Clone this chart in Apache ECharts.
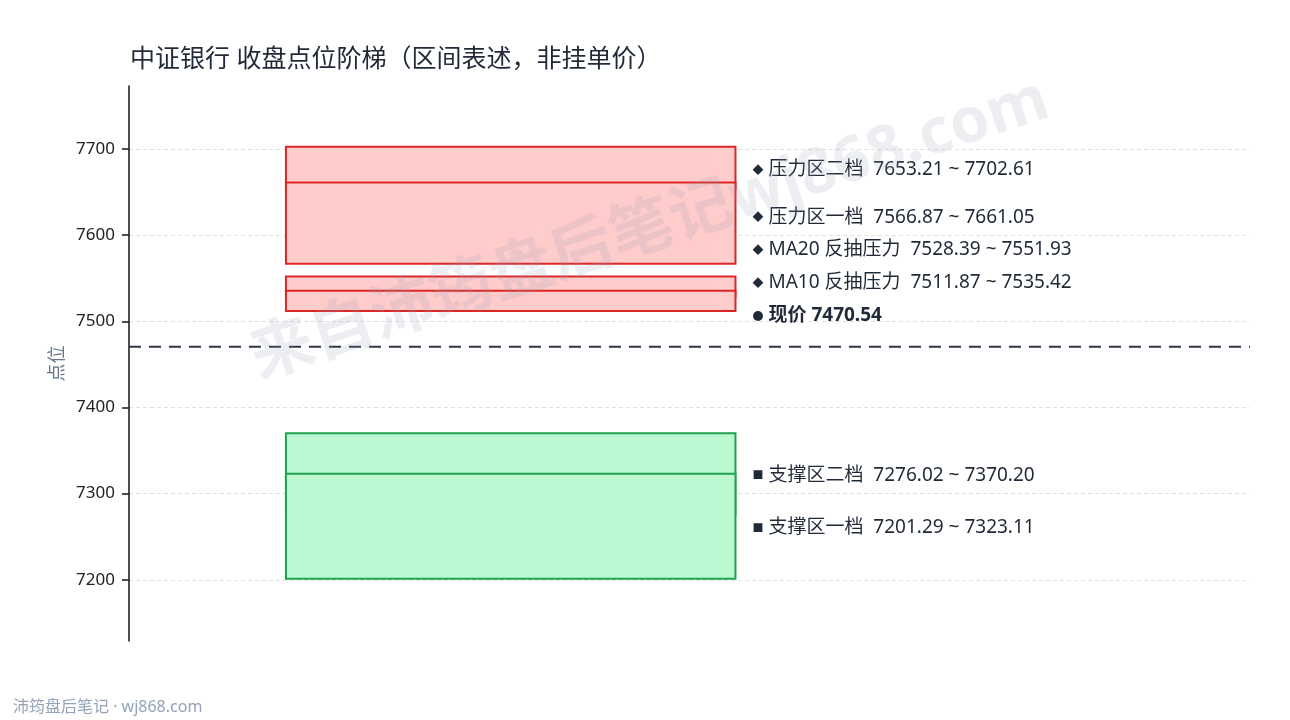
<!DOCTYPE html>
<html>
<head>
<meta charset="utf-8">
<script src="https://cdn.jsdelivr.net/npm/echarts@6/dist/echarts.min.js"></script>
<style>
html, body { margin: 0; padding: 0; background: #fff; }
#main { width: 1290px; height: 720px; }
</style>
</head>
<body>
<div id="main"></div>
<script>
// zones, drawn in this order (later ones sit on top)
var zoneNames = ['压力区二档', '压力区一档', 'MA20 反抽压力', 'MA10 反抽压力', '支撑区二档', '支撑区一档'];
var zoneLow = [7653.21, 7566.87, 7528.39, 7511.87, 7276.02, 7201.29];
var zoneHigh = [7702.61, 7661.05, 7551.93, 7535.42, 7370.20, 7323.11];
var zoneKind = ['press', 'press', 'press', 'press', 'support', 'support'];
var currentPrice = 7470.54;
var yTicks = [7200, 7300, 7400, 7500, 7600, 7700];
var yMin = 7129, yMax = 7773;

var boxX0 = 0.14, boxX1 = 0.541;
var labelGap = 38;

// spread the labels so they don't overlap
var labelY = [];
var curLabelY = currentPrice + labelGap;
var centers = zoneLow.map(function (v, i) { return (v + zoneHigh[i]) / 2; });
var pressIdx = [], supIdx = [];
for (var i = 0; i < zoneNames.length; i++) {
    if (zoneKind[i] === 'press') pressIdx.push(i); else supIdx.push(i);
}
pressIdx.sort(function (a, b) { return centers[a] - centers[b]; });
supIdx.sort(function (a, b) { return centers[b] - centers[a]; });
var prev = curLabelY;
pressIdx.forEach(function (i) {
    labelY[i] = Math.max(centers[i], prev + labelGap);
    prev = labelY[i];
});
prev = currentPrice;
supIdx.forEach(function (i) {
    labelY[i] = Math.min(centers[i], prev - labelGap);
    prev = labelY[i];
});

var boxData = zoneNames.map(function (n, i) {
    return [boxX0, boxX1, zoneLow[i], zoneHigh[i], zoneKind[i] === 'press' ? 0 : 1];
});

var labelData = zoneNames.map(function (n, i) {
    return {
        value: [boxX1, labelY[i]],
        label: {
            formatter: '{m|' + (zoneKind[i] === 'press' ? '◆' : '■') + '}{t|' + n + '  ' +
                zoneLow[i].toFixed(2) + ' ~ ' + zoneHigh[i].toFixed(2) + '}'
        }
    };
});
labelData.push({
    value: [boxX1, curLabelY],
    label: { formatter: '{m|●}{b|现价 ' + currentPrice.toFixed(2) + '}' }
});

var fills = ['#ffcccc', '#bbf7d0'];
var strokes = ['#dc2626', '#1fa34f'];
var font = '"Noto Sans", "Noto Sans CJK SC", sans-serif';
var cjk = '"Noto Sans CJK SC", sans-serif';

var chart = echarts.init(document.getElementById('main'));
chart.setOption({
    animation: false,
    textStyle: { fontFamily: font },
    title: {
        text: '中证银行 收盘点位阶梯（区间表述，非挂单价）',
        left: 125,
        top: 42,
        textStyle: { fontSize: 25, fontWeight: 'normal', color: '#1f2937', fontFamily: font }
    },
    grid: { left: 129, right: 40, top: 86, bottom: 79 },
    xAxis: { type: 'value', min: 0, max: 1, show: false },
    yAxis: {
        type: 'value',
        min: yMin,
        max: yMax,
        name: '点位',
        nameLocation: 'middle',
        nameGap: 64,
        nameTextStyle: { fontSize: 18, color: '#64748b', fontFamily: cjk },
        axisLine: { show: true, lineStyle: { color: '#222', width: 1.6 } },
        axisTick: { show: true, length: 7, customValues: yTicks, lineStyle: { color: '#222', width: 1.6 } },
        axisLabel: {
            customValues: yTicks, fontSize: 17, color: '#222', margin: 14,
            formatter: function (v) { return String(v); }
        },
        splitLine: { show: true, lineStyle: { color: '#e0e0e0', type: [4, 3], width: 1 } }
    },
    graphic: [{
        type: 'text',
        x: 650,
        y: 230,
        rotation: 0.32,
        z: 100,
        silent: true,
        style: {
            text: '来自沛筠盘后笔记wj868.com',
            font: 'bold 63px ' + font,
            fill: 'rgba(148,163,184,0.18)',
            align: 'center',
            verticalAlign: 'middle'
        }
    }, {
        type: 'text',
        x: 13,
        y: 707,
        style: {
            text: '沛筠盘后笔记 · wj868.com',
            font: '16px ' + font,
            fill: '#94a3b8',
            verticalAlign: 'middle'
        }
    }],
    series: [{
        type: 'custom',
        data: boxData,
        encode: { x: [0, 1], y: [2, 3] },
        renderItem: function (params, api) {
            var p0 = api.coord([api.value(0), api.value(3)]);
            var p1 = api.coord([api.value(1), api.value(2)]);
            var k = api.value(4);
            return {
                type: 'rect',
                shape: { x: p0[0], y: p0[1], width: p1[0] - p0[0], height: p1[1] - p0[1] },
                style: { fill: fills[k], stroke: strokes[k], lineWidth: 2 }
            };
        }
    }, {
        type: 'line',
        data: [[0, currentPrice], [1, currentPrice]],
        symbol: 'none',
        lineStyle: { color: '#2d3748', width: 2, type: [12, 8] }
    }, {
        type: 'scatter',
        symbolSize: 0,
        itemStyle: { opacity: 1 },
        data: labelData,
        label: {
            show: true,
            position: 'right',
            distance: 17,
            offset: [0, 1.5],
            rich: {
                m: { fontSize: 11, width: 16, color: '#1f2937', fontFamily: cjk },
                t: { fontSize: 19, color: '#1f2937', fontFamily: font },
                b: { fontSize: 19, color: '#1f2937', fontWeight: 'bold', fontFamily: font }
            }
        }
    }]
});
</script>
</body>
</html>
